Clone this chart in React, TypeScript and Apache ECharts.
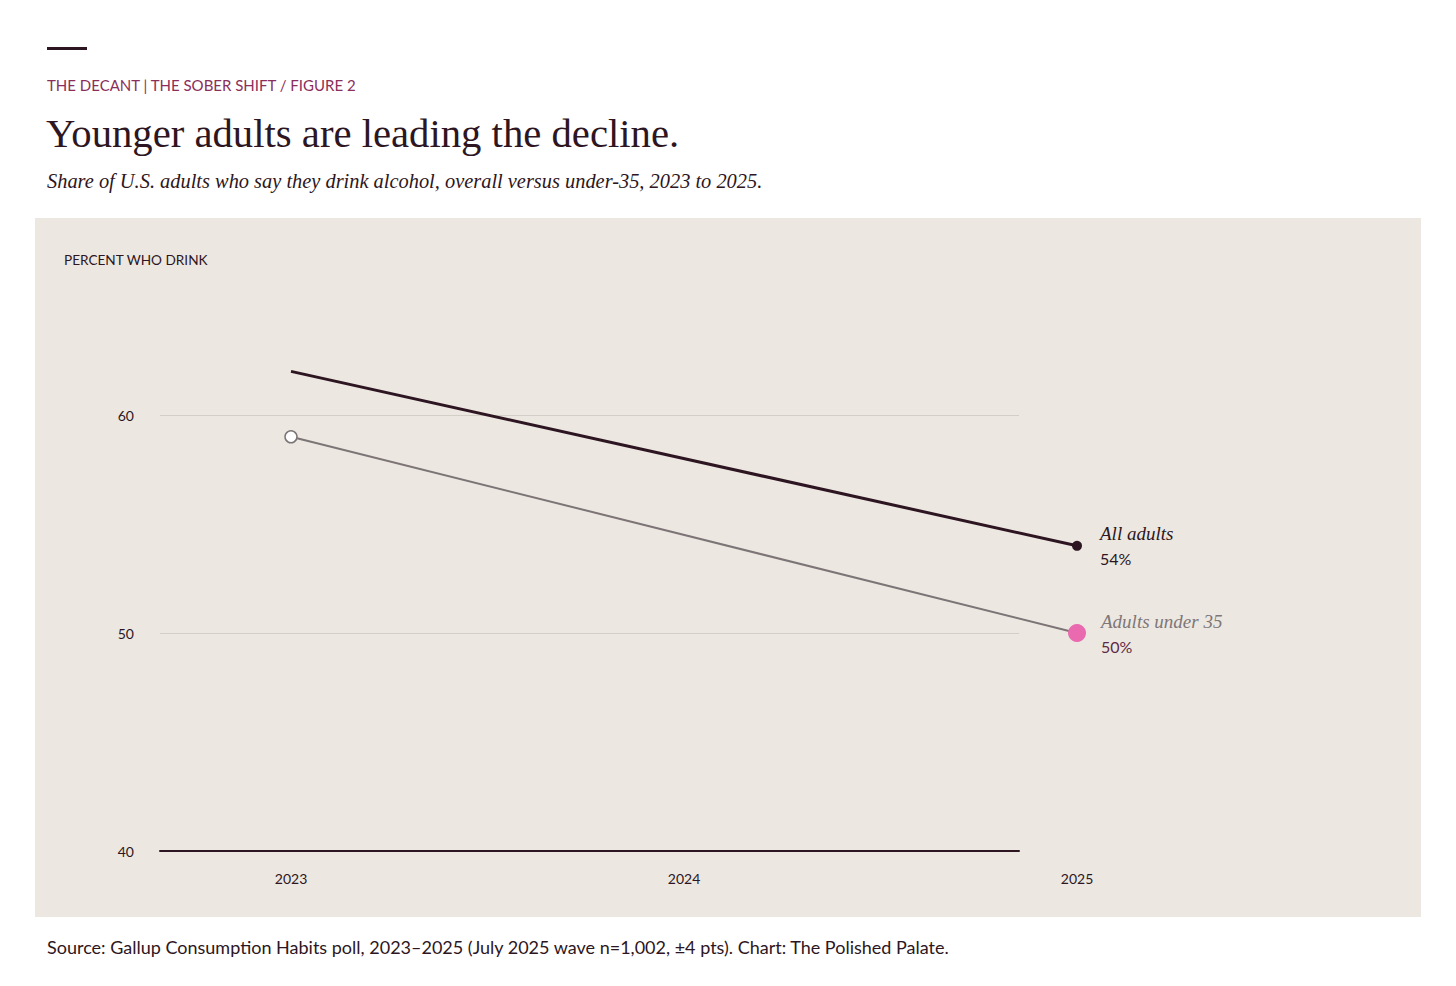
import React, { useEffect, useRef } from "react";
import * as echarts from "echarts";

// Survey years and share of U.S. adults who say they drink (percent)
const years = ["2023", "2024", "2025"];
const allAdults: (number | null)[] = [62, null, 54];
const under35: (number | null)[] = [59, null, 50];
const yTicks = { min: 40, max: 60, step: 10 };

const INK = "#2d1621";
const PLUM = "#8b2e5a";
const GREY_LINE = "#7c7476";
const PINK = "#e96aaf";
const PANEL = "#ece8e1";
const SANS = "Lato, 'Open Sans', sans-serif";
const SERIF = "'Liberation Serif', 'DejaVu Serif', serif";

export default function App() {
  const ref = useRef<HTMLDivElement>(null);

  useEffect(() => {
    if (!ref.current) return;
    const chart = echarts.init(ref.current, null, { renderer: "svg" });

    const connect = (arr: (number | null)[]) =>
      arr.map((v, i) => (v == null ? null : [years[i], v]));

    chart.setOption({
      animation: false,
      backgroundColor: "#ffffff",
      graphic: [
        { type: "rect", shape: { x: 35, y: 218, width: 1386, height: 699 }, style: { fill: PANEL }, z: -10 },
        { type: "rect", shape: { x: 47, y: 47, width: 40, height: 3 }, style: { fill: INK } },
        {
          type: "text", x: 47, y: 85,
          style: { text: "THE DECANT | THE SOBER SHIFT / FIGURE 2", fill: PLUM, font: `15px ${SANS}`, verticalAlign: "middle" },
        },
        {
          type: "text", x: 46, y: 133,
          style: { text: "Younger adults are leading the decline.", fill: INK, font: `40.7px ${SERIF}`, verticalAlign: "middle" },
        },
        {
          type: "text", x: 47, y: 181,
          style: { text: "Share of U.S. adults who say they drink alcohol, overall versus under-35, 2023 to 2025.", fill: INK, font: `italic 20.4px ${SERIF}`, verticalAlign: "middle" },
        },
        {
          type: "text", x: 64, y: 260,
          style: { text: "PERCENT WHO DRINK", fill: INK, font: `13.6px ${SANS}`, verticalAlign: "middle" },
        },
        {
          type: "text", x: 47, y: 947,
          style: { text: "Source: Gallup Consumption Habits poll, 2023–2025 (July 2025 wave n=1,002, ±4 pts). Chart: The Polished Palate.", fill: INK, font: `18px ${SANS}`, verticalAlign: "middle" },
        },
      ],
      grid: [
        { left: 160, right: 437, top: 415, bottom: 135 },
        { left: 291, right: 379, top: 306, bottom: 135 },
      ],
      xAxis: [
        {
          gridIndex: 0, type: "value", min: 0, max: 1,
          axisLine: { show: true, onZero: false, lineStyle: { color: INK, width: 2 } },
          axisTick: { show: false }, axisLabel: { show: false }, splitLine: { show: false },
        },
        {
          gridIndex: 1, type: "category", data: years, boundaryGap: false,
          axisLine: { show: false }, axisTick: { show: false }, splitLine: { show: false },
          axisLabel: { color: INK, fontSize: 14, fontFamily: SANS, margin: 20 },
        },
      ],
      yAxis: [
        {
          gridIndex: 0, type: "value", min: yTicks.min, max: yTicks.max, interval: yTicks.step,
          axisLine: { show: false }, axisTick: { show: false },
          axisLabel: { color: INK, fontSize: 14, fontFamily: SANS, margin: 26 },
          splitLine: { show: true, lineStyle: { color: "#d3cec6", width: 1 } },
        },
        { gridIndex: 1, type: "value", min: 40, max: 65, show: false },
      ],
      series: [
        {
          name: "Adults under 35", type: "line", xAxisIndex: 1, yAxisIndex: 1,
          data: connect(under35).map((d, i) =>
            d == null ? null : i === 0
              ? { value: d, symbolSize: 12, itemStyle: { color: "#ffffff", borderColor: GREY_LINE, borderWidth: 1.5 } }
              : {
                  value: d, symbolSize: 18, itemStyle: { color: PINK, borderWidth: 0 },
                  label: {
                    show: true, position: "right", distance: 15,
                    formatter: `{n|Adults under 35}\n{v|${d[1]}%}`,
                    rich: {
                      n: { fontFamily: SERIF, fontStyle: "italic", fontSize: 19, color: "#7f7678", lineHeight: 26 },
                      v: { fontFamily: SANS, fontSize: 16, color: "#5e2a45", lineHeight: 24 },
                    },
                  },
                }),
          connectNulls: true, clip: false, symbol: "circle",
          lineStyle: { color: GREY_LINE, width: 2 },
        },
        {
          name: "All adults", type: "line", xAxisIndex: 1, yAxisIndex: 1,
          data: connect(allAdults).map((d, i) =>
            d == null ? null : i === 0
              ? { value: d, symbol: "none" }
              : {
                  value: d, symbolSize: 10, itemStyle: { color: INK },
                  label: {
                    show: true, position: "right", distance: 18,
                    formatter: `{n|All adults}\n{v|${d[1]}%}`,
                    rich: {
                      n: { fontFamily: SERIF, fontStyle: "italic", fontSize: 19, color: INK, lineHeight: 26 },
                      v: { fontFamily: SANS, fontSize: 16, color: INK, lineHeight: 24 },
                    },
                  },
                }),
          connectNulls: true, clip: false, symbol: "circle",
          lineStyle: { color: INK, width: 3 },
        },
      ],
    });

    return () => chart.dispose();
  }, []);

  return (
    <div style={{ position: "fixed", left: 0, top: 0, width: 1456, height: 986, background: "#fff" }}>
      <div ref={ref} style={{ width: 1456, height: 986 }} />
    </div>
  );
}
